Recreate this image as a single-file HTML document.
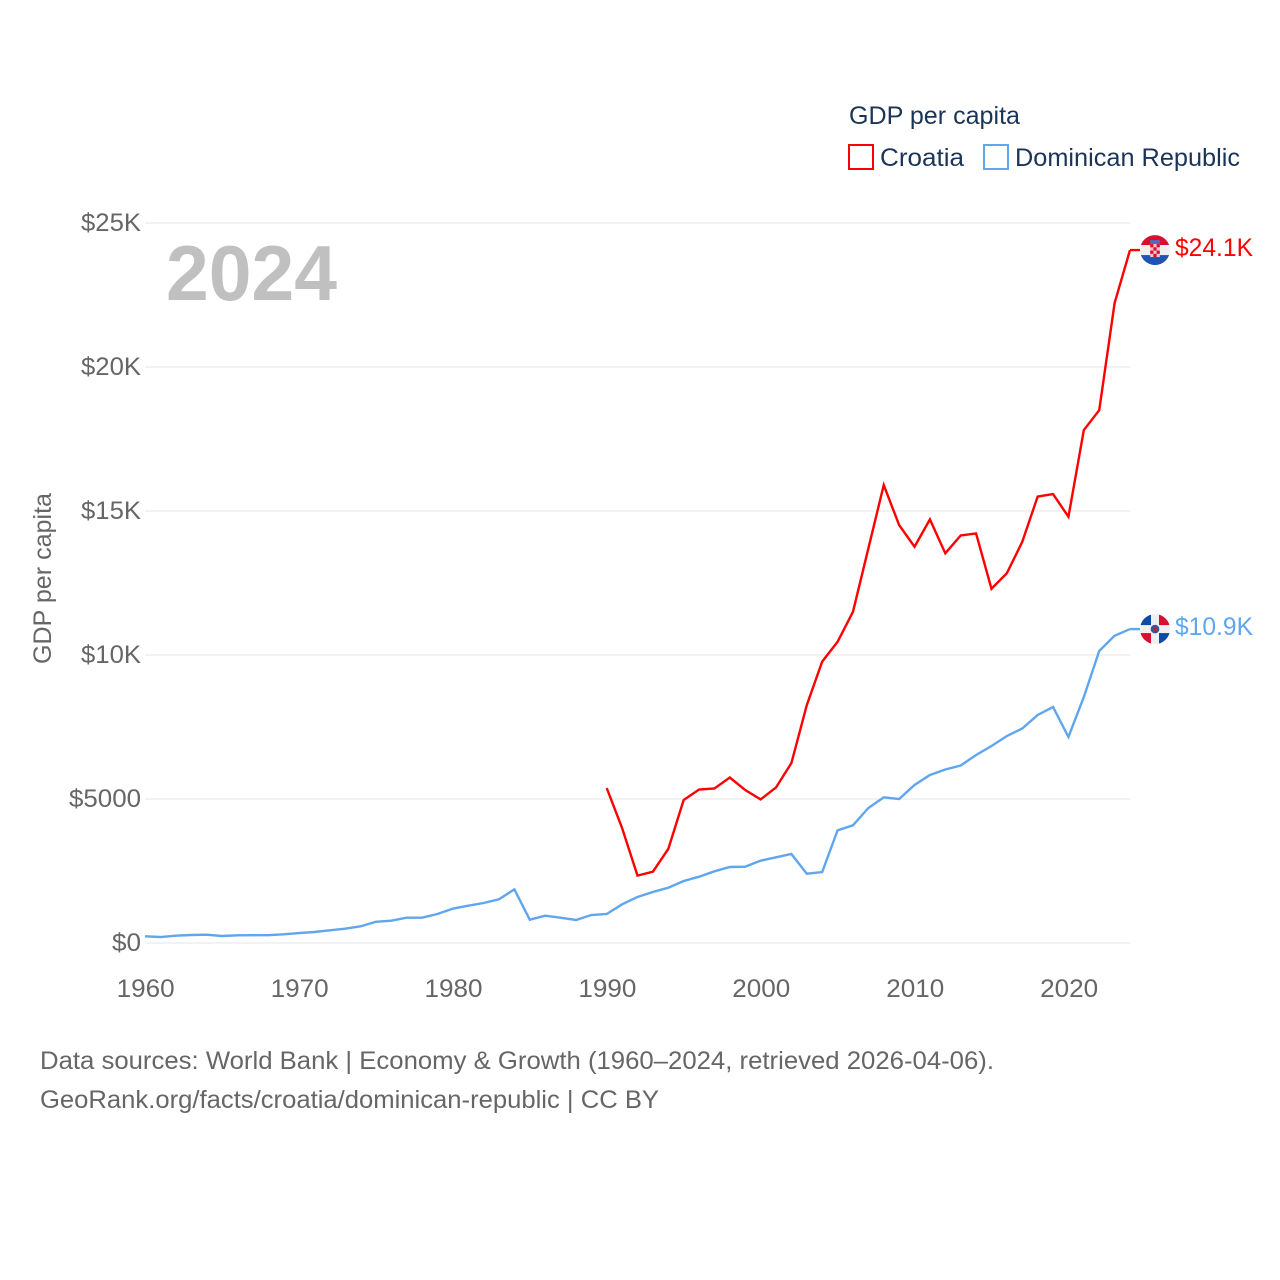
<!DOCTYPE html>
<html lang="en">
<head>
<meta charset="utf-8">
<title>GDP per capita: Croatia and Dominican Republic</title>
<style>
html,body{margin:0;padding:0;background:#fff;}
svg{display:block;font-family:"Liberation Sans",Arial,sans-serif;}
</style>
</head>
<body>
<svg id="chart" xmlns="http://www.w3.org/2000/svg" width="1280" height="1280" viewBox="0 0 1280 1280">
  <rect width="1280" height="1280" fill="#ffffff"/>
  <g id="grid"></g>
  <g id="yticks"></g>
  <g id="xticks"></g>
  <text transform="translate(51,664) rotate(-90)" font-size="25" fill="#666666" textLength="171" lengthAdjust="spacingAndGlyphs">GDP per capita</text>
  <text x="166" y="300" font-size="78" font-weight="700" fill="#c0c0c0" textLength="171" lengthAdjust="spacingAndGlyphs">2024</text>
  <g id="series"></g>
  <g id="endpoints"></g>

  <g>
    <text x="849" y="124" font-size="25" fill="#1a3557" textLength="171" lengthAdjust="spacingAndGlyphs">GDP per capita</text>
    <g>
      <rect x="849" y="145" width="24" height="24" fill="none" stroke="#ff0000" stroke-width="2"/>
      <text x="880" y="166" font-size="25" fill="#1a3557" textLength="84" lengthAdjust="spacingAndGlyphs">Croatia</text>
    </g>
    <g>
      <rect x="984" y="145" width="24" height="24" fill="none" stroke="#5fa6ee" stroke-width="2"/>
      <text x="1015" y="166" font-size="25" fill="#1a3557" textLength="225" lengthAdjust="spacingAndGlyphs">Dominican Republic</text>
    </g>
  </g>

  <text x="40" y="1069" font-size="25" fill="#666666" textLength="954" lengthAdjust="spacingAndGlyphs">Data sources: World Bank | Economy &amp; Growth (1960–2024, retrieved 2026-04-06).</text>
  <text x="40" y="1108" font-size="25" fill="#666666" textLength="619" lengthAdjust="spacingAndGlyphs">GeoRank.org/facts/croatia/dominican-republic | CC BY</text>
</svg>
<script>
const startYear = 1960;
const endYear = 2024;
const croatiaStartYear = 1990;
const croatiaValues = [5380,3990,2340,2475,3265,4965,5330,5365,5745,5310,4985,5400,6250,8260,9770,10460,11500,13700,15900,14510,13760,14710,13530,14150,14220,12300,12840,13930,15500,15590,14800,17810,18500,22220,24060];
const dominicanValues = [231,208,255,278,289,243,266,270,272,300,347,382,440,498,578,737,775,880,880,1007,1192,1296,1389,1517,1864,810,949,880,799,972,1007,1343,1597,1770,1920,2153,2302,2489,2639,2650,2858,2975,3090,2406,2465,3912,4086,4688,5058,5000,5486,5833,6024,6163,6528,6840,7187,7448,7917,8194,7153,8542,10139,10670,10900];
const yTickValues = [0,5000,10000,15000,20000,25000];
const yTickLabels = ["$0","$5000","$10K","$15K","$20K","$25K"];
const xTickValues = [1960,1970,1980,1990,2000,2010,2020];
const croatiaEndLabel = "$24.1K";
const dominicanEndLabel = "$10.9K";

const NS = "http://www.w3.org/2000/svg";
const plotLeft = 145, plotRight = 1130, plotBottom = 943, plotTop = 223;
function xScale(year){ return plotLeft + (year - startYear) * (plotRight - plotLeft) / (endYear - startYear); }
function yScale(value){ return plotBottom - value * (plotBottom - plotTop) / 25000; }
function make(tag, attrs, parent){
  const el = document.createElementNS(NS, tag);
  for (const k in attrs) el.setAttribute(k, attrs[k]);
  parent.appendChild(el);
  return el;
}
function linePoints(values, firstYear){
  return values.map(function(v, i){ return xScale(firstYear + i).toFixed(2) + "," + yScale(v).toFixed(2); }).join(" ");
}

const grid = document.getElementById("grid");
const yticks = document.getElementById("yticks");
const xticks = document.getElementById("xticks");
const series = document.getElementById("series");
const endpoints = document.getElementById("endpoints");

yTickValues.forEach(function(v, i){
  const line = make("line", {x1: plotLeft, x2: plotRight, y1: yScale(v), y2: yScale(v), stroke: "#eeeeee", "stroke-width": 1.5}, grid);
  
  
  const label = yTickLabels[i];
  const widthPerChar = label.length === 2 ? 14.5 : (label.length === 5 ? 14.4 : 15);
  const t = make("text", {x: 141, y: yScale(v) + 8, "text-anchor": "end", "font-size": 25, fill: "#666666", textLength: label.length * widthPerChar, lengthAdjust: "spacingAndGlyphs"}, yticks);
  t.textContent = label;
  
  
});

xTickValues.forEach(function(y){
  const t = make("text", {x: xScale(y) + 0.7, y: 997, "text-anchor": "middle", "font-size": 25, fill: "#666666", textLength: 58, lengthAdjust: "spacingAndGlyphs"}, xticks);
  t.textContent = String(y);
  
  
});

const dominicanLine = make("polyline", {points: linePoints(dominicanValues, startYear), fill: "none", stroke: "#5fa6ee", "stroke-width": 2.4, "stroke-linejoin": "miter"}, series);



const croatiaLine = make("polyline", {points: linePoints(croatiaValues, croatiaStartYear), fill: "none", stroke: "#ff0000", "stroke-width": 2.4, "stroke-linejoin": "miter"}, series);



function flagClip(id, cy){
  const c = make("clipPath", {id: id}, endpoints);
  make("circle", {cx: 1155, cy: cy, r: 15}, c);
}

/* Croatia end marker */
const hrY = yScale(croatiaValues[croatiaValues.length - 1]);
const hrLead = make("line", {x1: plotRight, x2: 1140, y1: hrY, y2: hrY, stroke: "#ff0000", "stroke-width": 2.4}, endpoints);


flagClip("clip-hr", hrY);
const hrFlag = make("g", {"clip-path": "url(#clip-hr)"}, endpoints);


make("rect", {x: 1140, y: hrY - 15, width: 30, height: 10, fill: "#d8102f"}, hrFlag);
make("rect", {x: 1140, y: hrY - 5, width: 30, height: 10, fill: "#efefef"}, hrFlag);
make("rect", {x: 1140, y: hrY + 5, width: 30, height: 10, fill: "#1f55b0"}, hrFlag);
make("rect", {x: 1150.2, y: hrY - 10, width: 9.6, height: 4, fill: "#4b6fc0"}, hrFlag);
make("rect", {x: 1150.2, y: hrY - 6, width: 9.6, height: 13, fill: "#f2c6cc"}, hrFlag);
[0,1,2,3].forEach(function(r){
  [0,1,2].forEach(function(c){
    if ((r + c) % 2 === 0) make("rect", {x: 1150.2 + c * 3.2, y: hrY - 6 + r * 3.25, width: 3.2, height: 3.25, fill: "#d8102f"}, hrFlag);
  });
});
const hrLabel = make("text", {x: 1175, y: hrY + 6, "font-size": 25, fill: "#ff0000", textLength: 78, lengthAdjust: "spacingAndGlyphs"}, endpoints);
hrLabel.textContent = croatiaEndLabel;



/* Dominican Republic end marker */
const doY = yScale(dominicanValues[dominicanValues.length - 1]);
const doLead = make("line", {x1: plotRight, x2: 1140, y1: doY, y2: doY, stroke: "#5fa6ee", "stroke-width": 2.4}, endpoints);


flagClip("clip-do", doY);
const doFlag = make("g", {"clip-path": "url(#clip-do)"}, endpoints);


make("rect", {x: 1140, y: doY - 15, width: 30, height: 30, fill: "#efefef"}, doFlag);
make("rect", {x: 1140, y: doY - 15, width: 11, height: 11, fill: "#0a4ba8"}, doFlag);
make("rect", {x: 1159, y: doY - 15, width: 11, height: 11, fill: "#d8102f"}, doFlag);
make("rect", {x: 1140, y: doY + 4, width: 11, height: 11, fill: "#d8102f"}, doFlag);
make("rect", {x: 1159, y: doY + 4, width: 11, height: 11, fill: "#0a4ba8"}, doFlag);
make("circle", {cx: 1155, cy: doY, r: 4.3, fill: "#2d5a9a"}, doFlag);
make("circle", {cx: 1155, cy: doY, r: 2, fill: "#c8202f"}, doFlag);
const doLabel = make("text", {x: 1175, y: doY + 6, "font-size": 25, fill: "#5fa6ee", textLength: 78, lengthAdjust: "spacingAndGlyphs"}, endpoints);
doLabel.textContent = dominicanEndLabel;


</script>
</body>
</html>
